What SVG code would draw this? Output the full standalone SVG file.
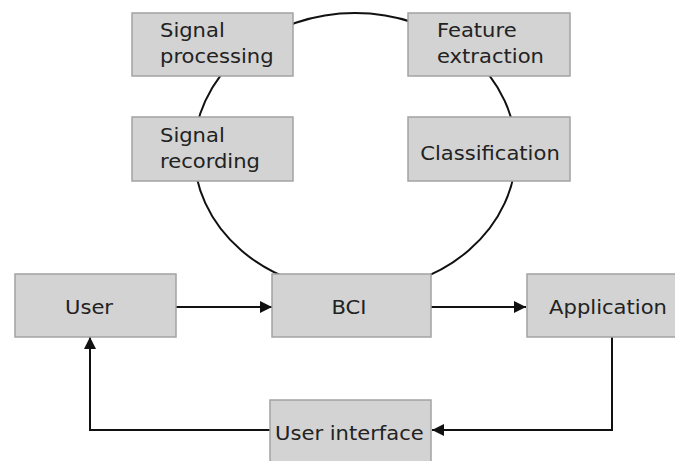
<svg xmlns="http://www.w3.org/2000/svg" width="675" height="461" viewBox="0 0 675 461">
<style>
.box{fill:#d3d3d3;stroke:#a3a3a3;stroke-width:1.5}
.lbl{font-family:"DejaVu Sans",sans-serif;font-size:19px;fill:#222}
.mid{text-anchor:middle}
.ln{fill:none;stroke:#111;stroke-width:2}
</style>
<defs>
<marker id="ah" viewBox="0 0 10 10" refX="10" refY="5" markerWidth="12" markerHeight="12" markerUnits="userSpaceOnUse" orient="auto">
<path d="M0,0 L10,5 L0,10 z" fill="#111"/>
</marker>
</defs>
<rect width="675" height="461" fill="#fff"/>
<g id="connectors">
<ellipse cx="355" cy="152" rx="161" ry="139" class="ln"/>
<path d="M176,307 H272" class="ln" marker-end="url(#ah)"/>
<path d="M431,307 H526" class="ln" marker-end="url(#ah)"/>
<path d="M612,337 V430 H432" class="ln" marker-end="url(#ah)"/>
<path d="M270,430 H90 V337" class="ln" marker-end="url(#ah)"/>
</g>
<g id="signal-processing">
<rect class="box" x="132" y="13" width="161" height="63"/>
<text class="lbl" transform="translate(160,37) scale(1.11,1)">Signal</text>
<text class="lbl" transform="translate(160,63) scale(1.11,1)">processing</text>
</g>
<g id="feature-extraction">
<rect class="box" x="408" y="13" width="162" height="63"/>
<text class="lbl" transform="translate(437,37) scale(1.11,1)">Feature</text>
<text class="lbl" transform="translate(437,63) scale(1.11,1)">extraction</text>
</g>
<g id="signal-recording">
<rect class="box" x="132" y="117" width="161" height="64"/>
<text class="lbl" transform="translate(160,142) scale(1.11,1)">Signal</text>
<text class="lbl" transform="translate(160,168) scale(1.11,1)">recording</text>
</g>
<g id="classification">
<rect class="box" x="408" y="117" width="162" height="64"/>
<text class="lbl mid" transform="translate(490,160) scale(1.11,1)">Classification</text>
</g>
<g id="user">
<rect class="box" x="15" y="274" width="161" height="63"/>
<text class="lbl mid" transform="translate(89,314) scale(1.11,1)">User</text>
</g>
<g id="bci">
<rect class="box" x="272" y="274" width="159" height="63"/>
<text class="lbl mid" transform="translate(349,314) scale(1.11,1)">BCI</text>
</g>
<g id="application">
<rect class="box" x="527" y="274" width="150" height="63"/>
<text class="lbl mid" transform="translate(608,314) scale(1.11,1)">Application</text>
</g>
<g id="user-interface">
<rect class="box" x="270" y="400" width="161" height="65"/>
<text class="lbl" transform="translate(275,440) scale(1.11,1)">User interface</text>
</g>
</svg>
